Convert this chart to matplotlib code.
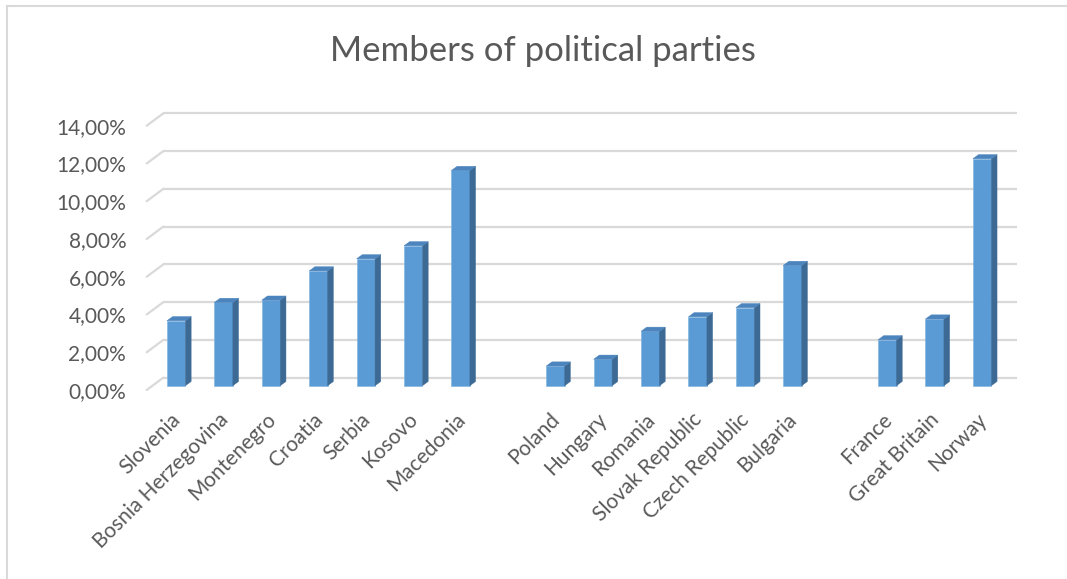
import matplotlib
matplotlib.use("Agg")
import matplotlib.pyplot as plt
from matplotlib.transforms import offset_copy
from matplotlib.patches import Polygon, ConnectionPatch
import numpy as np

# ---- data ----
countries = ["Slovenia", "Bosnia Herzegovina", "Montenegro", "Croatia", "Serbia",
             "Kosovo", "Macedonia", "",
             "Poland", "Hungary", "Romania", "Slovak Republic", "Czech Republic",
             "Bulgaria", "",
             "France", "Great Britain", "Norway"]
values = [3.44, 4.41, 4.53, 6.08, 6.72, 7.41, 11.40, None,
          1.04, 1.40, 2.88, 3.65, 4.13, 6.37, None,
          2.43, 3.53, 12.02]
yticks = [0, 2, 4, 6, 8, 10, 12, 14]
ytick_labels = ["0,00%", "2,00%", "4,00%", "6,00%", "8,00%", "10,00%", "12,00%", "14,00%"]
title = "Members of political parties"

plt.rcParams['font.family'] = ['Lato', 'DejaVu Sans']
TXT = "#595959"
FRONT = "#5B9BD5"
SIDE = "#3D6A94"
TOP = "#4C84BD"
GRID = "#D9D9D9"

W, H = 1067, 579
fig = plt.figure(figsize=(W / 100, H / 100), dpi=100)
# axes in front plane: x 146.7..1000, y 390 (0) .. 125.7 (14)
x0, x1 = 146.7, 1000.0
y0, y1 = 390.0, 125.7
ax = fig.add_axes([x0 / W, 1 - y0 / H, (x1 - x0) / W, (y0 - y1) / H])
n = len(countries)
ax.set_xlim(-0.5, n - 0.5)
ax.set_ylim(0, 14)
for s in ax.spines.values():
    s.set_visible(False)
ax.patch.set_visible(False)

# back plane (floor depth) and bar offsets in pixels
back = offset_copy(ax.transData, fig=fig, x=16.7, y=12.4, units='dots')
barpos = offset_copy(ax.transData, fig=fig, x=5.8, y=4.3, units='dots')
bdx, bdy = 5.7, 4.2  # bar depth in pixels

# gridlines on back wall + floor diagonals
for t in yticks:
    ax.plot([-0.5, n - 0.5], [t, t], color=GRID, lw=1.6, transform=back,
            solid_capstyle='butt', zorder=1, clip_on=False)
    cp = ConnectionPatch(xyA=(-0.5, t), coordsA=ax.transData,
                         xyB=(-0.5, t), coordsB=back,
                         color=GRID, lw=1.6, zorder=1)
    fig.add_artist(cp)

# bars
bw = 0.39
for i, v in enumerate(values):
    if v is None:
        continue
    ax.bar(i, v, width=bw, color=FRONT, transform=barpos, zorder=3,
           edgecolor="#7FB2E0", linewidth=0.4)
    # side and top faces in pixel coordinates derived from the data transform
    (lx, by), (rx, ty) = barpos.transform([(i - bw / 2, 0), (i + bw / 2, v)])
    side = [(rx, by), (rx + bdx, by + bdy), (rx + bdx, ty + bdy), (rx, ty)]
    top = [(lx, ty), (rx, ty), (rx + bdx, ty + bdy), (lx + bdx, ty + bdy)]
    fig.add_artist(Polygon(side, closed=True, facecolor=SIDE, edgecolor=SIDE,
                           lw=0.3, transform=None, zorder=4))
    fig.add_artist(Polygon(top, closed=True, facecolor=TOP, edgecolor=TOP,
                           lw=0.3, transform=None, zorder=4))

ax.set_yticks(yticks)
ax.set_yticklabels(ytick_labels)
ax.tick_params(axis='y', length=0, pad=14.8, labelsize=15, labelcolor=TXT)
ax.set_xticks([i for i, c in enumerate(countries) if c])
ax.set_xticklabels([c for c in countries if c], rotation=45, ha='right',
                   rotation_mode='anchor', fontsize=15, color=TXT)
ax.tick_params(axis='x', length=0, pad=14)

fig.text(543 / W, 1 - 51 / H, title, ha='center', va='center', fontsize=25, color=TXT)

# chart border (left and top)
fig.add_artist(plt.Line2D([7 / W, 7 / W], [0, 1 - 6 / H], color="#D9D9D9", lw=1.5))
fig.add_artist(plt.Line2D([7 / W, 1], [1 - 6 / H, 1 - 6 / H], color="#D9D9D9", lw=1.5))

fig.savefig("out.png", dpi=100)
